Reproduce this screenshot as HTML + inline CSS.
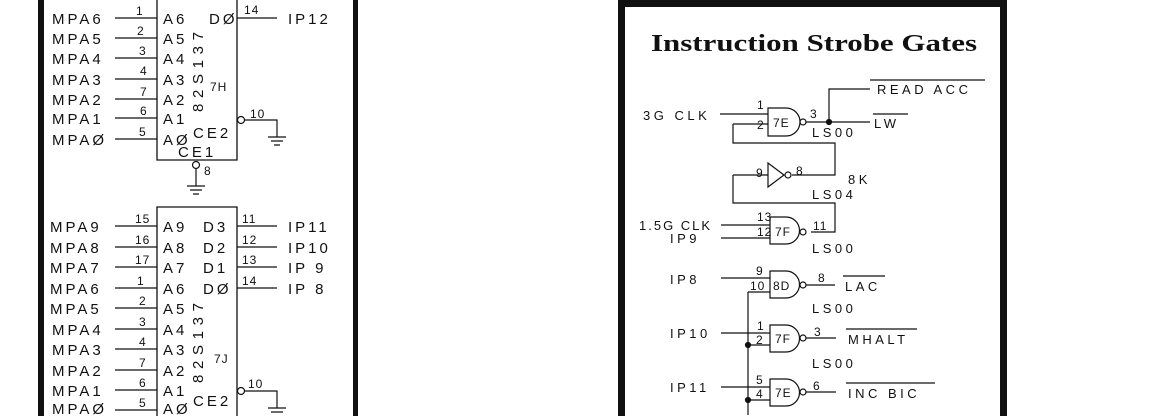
<!DOCTYPE html>
<html><head><meta charset="utf-8"><style>
html,body{margin:0;padding:0;background:#fff;overflow:hidden;width:1163px;height:416px;}
svg{display:block;overflow:hidden;}
text{font-family:"Liberation Sans",sans-serif;font-size:15px;fill:#111;letter-spacing:3px;}
.s{font-size:12px;letter-spacing:1px;}
.r{font-size:13px;letter-spacing:3.5px;}
</style></head><body>
<svg width="1163" height="416" viewBox="0 0 1163 416" xmlns="http://www.w3.org/2000/svg">
<g stroke="#111" fill="none">
<rect x="38" y="0" width="6" height="416" fill="#111" stroke="none"/>
<rect x="353" y="0" width="5" height="416" fill="#111" stroke="none"/>
<path d="M157 0V160H237V0" stroke-width="1.3"/>
<path d="M157 416V207H237V416" stroke-width="1.3"/>
<g stroke-width="1.2">
<path d="M115 18H157 M115 38H157 M115 58H157 M115 79H157 M115 99H157 M115 118H157 M115 139H157"/>
<path d="M237 18H277"/>
<circle cx="241" cy="120" r="3.5"/>
<path d="M245 120H277V137 M268 137H286 M271 141H283 M274 145H280"/>
<circle cx="196" cy="165" r="3.5"/>
<path d="M196 169V186 M187 186H205 M190 190H202 M193 194H199"/>
<path d="M115 226H157 M115 247H157 M115 267H157 M115 288H157 M115 308H157 M115 329H157 M115 349H157 M115 370H157 M115 390H157 M115 410H157"/>
<path d="M237 226H277 M237 247H277 M237 267H277 M237 288H277"/>
<circle cx="241" cy="391" r="3.5"/>
<path d="M245 391H277V408 M268 408H286 M271 412H283"/>
</g>
<path d="M618 416V0H1007V416H1000V7H625V416Z" stroke="none" fill="#111"/>
<g stroke-width="1.2">
<path d="M768 108H786A14 14 0 0 1 786 136H768Z"/>
<circle cx="803" cy="122" r="3"/>
<path d="M720 114H768 M733 124H768 M733 124V143H835V175H792"/>
<path d="M806 122H870 M829 122V89H870"/>
<circle cx="829" cy="122" r="2.5" fill="#111"/>
<path d="M870 80H985 M873 114H908"/>
<path d="M768 163L784 175L768 187Z"/>
<circle cx="788" cy="175" r="3"/>
<path d="M733 175H768 M733 175V203H835V232H811"/>
<path d="M770 217H786A13.5 13.5 0 0 1 786 244H770Z"/>
<circle cx="803" cy="232" r="3"/>
<path d="M721 225H770 M721 238H770"/>
<path d="M770 271H786A13.5 13.5 0 0 1 786 298H770Z"/>
<circle cx="803" cy="285" r="3"/>
<path d="M721 278H770 M748 292H770 M748 292V415 M806 285H835 M843 276H885"/>
<path d="M770 325H786A13.5 13.5 0 0 1 786 352H770Z"/>
<circle cx="803" cy="338" r="3"/>
<path d="M721 333H770 M748 345H770 M806 338H836 M846 329H917"/>
<circle cx="748" cy="345" r="2.5" fill="#111"/>
<path d="M770 379H786A13.5 13.5 0 0 1 786 406H770Z"/>
<circle cx="803" cy="392" r="3"/>
<path d="M721 387H770 M748 400H770 M806 392H836 M846 383H935"/>
<circle cx="748" cy="400" r="2.5" fill="#111"/>
</g>
</g>
<g>
<text x="52" y="24">MPA6</text><text x="52" y="44">MPA5</text><text x="52" y="64">MPA4</text><text x="52" y="85">MPA3</text>
<text x="52" y="105">MPA2</text><text x="52" y="124">MPA1</text><text x="52" y="145">MPAØ</text>
<text class="s" x="136" y="15">1</text><text class="s" x="137" y="35">2</text><text class="s" x="139" y="55">3</text><text class="s" x="140" y="75">4</text>
<text class="s" x="140" y="96">7</text><text class="s" x="140" y="115">6</text><text class="s" x="139" y="136">5</text>
<text x="163" y="24">A6</text><text x="163" y="44">A5</text><text x="163" y="64">A4</text><text x="163" y="85">A3</text>
<text x="163" y="105">A2</text><text x="163" y="124">A1</text><text x="163" y="145">AØ</text>
<text x="209" y="24">DØ</text><text class="s" x="244" y="14">14</text><text x="288" y="24">IP12</text>
<text x="193" y="138">CE2</text><text x="178" y="157">CE1</text>
<text class="s" x="210" y="91">7H</text><text class="s" x="250" y="118">10</text><text class="s" x="204" y="175">8</text>
<text x="0" y="0" transform="translate(203,112) rotate(-90)" textLength="80" style="letter-spacing:0">82S137</text>
<text x="50" y="232">MPA9</text><text x="50" y="253">MPA8</text><text x="50" y="273">MPA7</text><text x="50" y="294">MPA6</text>
<text x="50" y="314">MPA5</text><text x="52" y="335">MPA4</text><text x="52" y="355">MPA3</text><text x="52" y="376">MPA2</text>
<text x="52" y="396">MPA1</text><text x="52" y="414">MPAØ</text>
<text class="s" x="135" y="223">15</text><text class="s" x="135" y="244">16</text><text class="s" x="135" y="264">17</text><text class="s" x="137" y="285">1</text>
<text class="s" x="139" y="305">2</text><text class="s" x="139" y="326">3</text><text class="s" x="139" y="346">4</text><text class="s" x="139" y="367">7</text>
<text class="s" x="139" y="387">6</text><text class="s" x="139" y="407">5</text>
<text x="163" y="232">A9</text><text x="163" y="253">A8</text><text x="163" y="273">A7</text><text x="163" y="294">A6</text>
<text x="163" y="314">A5</text><text x="163" y="335">A4</text><text x="163" y="355">A3</text><text x="163" y="376">A2</text>
<text x="163" y="396">A1</text><text x="163" y="414">AØ</text>
<text x="203" y="232">D3</text><text x="203" y="253">D2</text><text x="203" y="273">D1</text><text x="203" y="294">DØ</text>
<text class="s" x="242" y="223">11</text><text class="s" x="242" y="244">12</text><text class="s" x="242" y="264">13</text><text class="s" x="242" y="285">14</text>
<text x="288" y="232">IP11</text><text x="288" y="253">IP10</text><text x="288" y="273">IP 9</text><text x="288" y="294">IP 8</text>
<text x="193" y="406">CE2</text><text class="s" x="214" y="363">7J</text><text class="s" x="248" y="388">10</text>
<text x="0" y="0" transform="translate(203,383) rotate(-90)" textLength="80" style="letter-spacing:0">82S137</text>
</g>
<text x="651" y="51" textLength="326" lengthAdjust="spacingAndGlyphs" style="font-family:'Liberation Serif',serif;font-weight:bold;font-size:24px;letter-spacing:0">Instruction Strobe Gates</text>
<g>
<text x="643" y="120" class="r">3G CLK</text><text class="s" x="757" y="109">1</text><text class="s" x="757" y="129">2</text>
<text class="s" x="773" y="127">7E</text><text class="s" x="810" y="118">3</text>
<text class="r" x="877" y="94">READ ACC</text><text class="r" x="874" y="128">LW</text><text class="r" x="812" y="137">LS00</text>
<text class="s" x="756" y="177">9</text><text class="s" x="796" y="175">8</text><text class="r" x="848" y="184">8K</text><text class="r" x="812" y="199">LS04</text>
<text class="r" x="639" y="230" style="letter-spacing:2px">1.5G CLK</text><text class="r" x="670" y="243">IP9</text>
<text class="s" x="757" y="221">13</text><text class="s" x="757" y="236">12</text><text class="s" x="775" y="236">7F</text><text class="s" x="813" y="230">11</text>
<text class="r" x="812" y="253">LS00</text>
<text class="r" x="670" y="284">IP8</text><text class="s" x="756" y="275">9</text><text class="s" x="750" y="290">10</text>
<text class="s" x="773" y="290">8D</text><text class="s" x="818" y="282">8</text><text class="r" x="845" y="291">LAC</text><text class="r" x="812" y="313">LS00</text>
<text class="r" x="670" y="338">IP10</text><text class="s" x="757" y="330">1</text><text class="s" x="756" y="344">2</text>
<text class="s" x="775" y="343">7F</text><text class="s" x="814" y="336">3</text><text class="r" x="848" y="344">MHALT</text><text class="r" x="812" y="368">LS00</text>
<text class="r" x="670" y="392">IP11</text><text class="s" x="756" y="384">5</text><text class="s" x="756" y="398">4</text>
<text class="s" x="775" y="397">7E</text><text class="s" x="813" y="390">6</text><text class="r" x="848" y="398">INC BIC</text>
</g>
</svg>
</body></html>
